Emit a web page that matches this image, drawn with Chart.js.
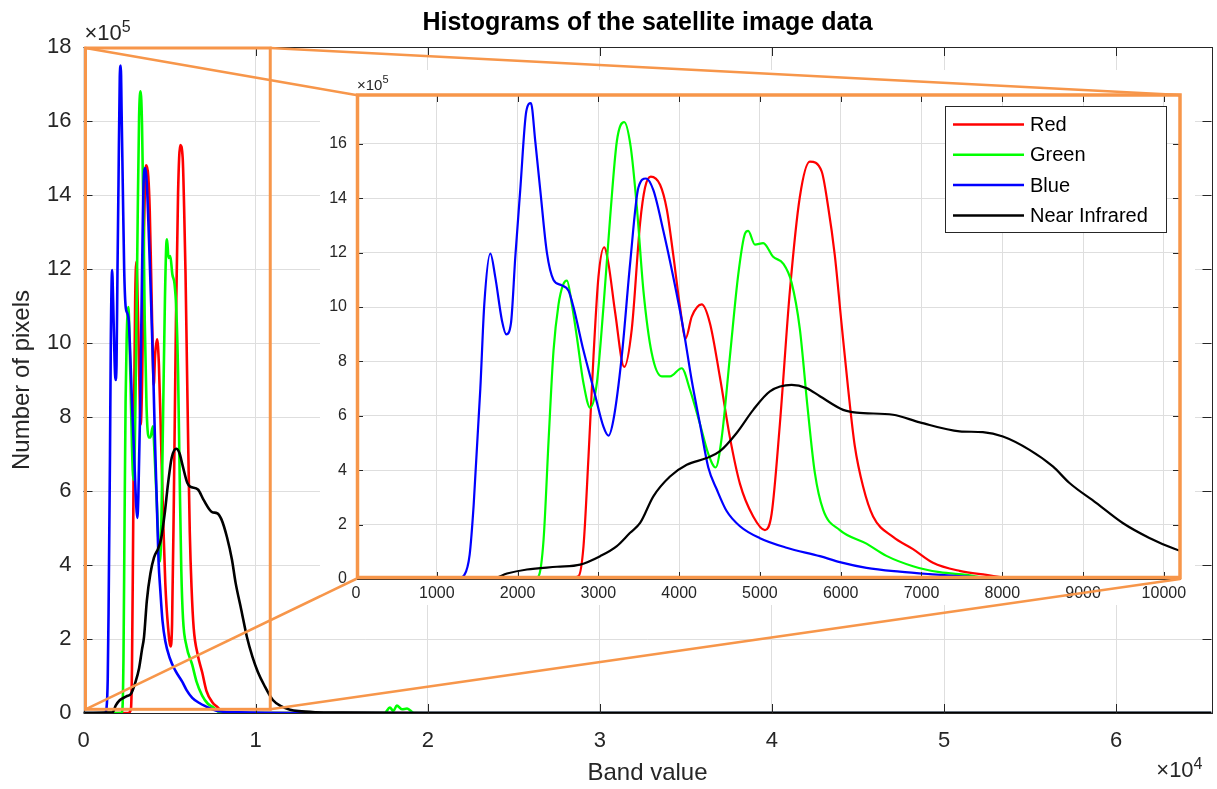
<!DOCTYPE html>
<html><head><meta charset="utf-8">
<script src="https://cdn.jsdelivr.net/npm/chart.js@4.4.1/dist/chart.umd.min.js"></script>
<style>
html,body{margin:0;padding:0;background:#fff;}
#wrap{position:relative;width:1217px;height:789px;overflow:hidden;background:#fff;}
#main{position:absolute;left:0;top:0;}
#inset{position:absolute;left:320px;top:70px;background:#fff;}
</style></head><body>
<div id="wrap">
<canvas id="main" width="1217" height="789"></canvas>
<canvas id="inset" width="875" height="535"></canvas>
</div>
<script>
// ---- data (band value, pixel count in units of 1e5) ----
const seriesNames = ['Red', 'Green', 'Blue', 'Near Infrared'];

const redBand  = [0, 2600, 2754, 2816, 2878, 2940, 3001, 3072, 3125, 3208, 3320, 3414, 3517, 3578, 3649, 3764, 3847, 3928, 4011, 4081, 4156, 4279, 4382, 4506, 4629, 4753, 4917, 5062, 5145, 5247, 5371, 5494, 5618, 5763, 5844, 5927, 6010, 6092, 6174, 6277, 6401, 6648, 6895, 7142, 7472, 7802, 8100, 9000, 65535];
const redCount = [0, 0, 0.1, 1.2, 4.5, 8.2, 11.1, 12.2, 11.6, 9.8, 7.8, 9.2, 13.1, 14.4, 14.8, 14.5, 13.6, 11.9, 10.0, 8.85, 9.65, 10.1, 9.4, 7.4, 5.2, 3.5, 2.3, 1.8, 2.4, 5.7, 10.6, 14.05, 15.35, 15.0, 13.7, 11.9, 9.4, 7.0, 4.9, 3.4, 2.3, 1.55, 1.1, 0.6, 0.3, 0.15, 0.03, 0, 0];

const greenBand  = [0, 2200, 2260, 2322, 2384, 2445, 2507, 2561, 2611, 2672, 2734, 2816, 2899, 2981, 3063, 3146, 3229, 3320, 3400, 3476, 3558, 3661, 3785, 3887, 4032, 4135, 4258, 4361, 4452, 4527, 4629, 4732, 4815, 4855, 4938, 5041, 5164, 5288, 5392, 5494, 5590, 5680, 5782, 5989, 6319, 6566, 6895, 7225, 7555, 7850, 9000, 17500, 17800, 18000, 18200, 18500, 18800, 19200, 65535];
const greenCount = [0, 0, 0.1, 1.45, 5.1, 8.4, 10.1, 10.8, 10.97, 10.1, 8.9, 7.2, 6.3, 7.2, 10.0, 13.3, 16.1, 16.8, 15.9, 13.7, 10.6, 8.3, 7.45, 7.45, 7.75, 6.95, 5.7, 4.6, 4.1, 5.2, 8.2, 11.2, 12.7, 12.8, 12.3, 12.35, 11.85, 11.6, 10.9, 9.2, 6.3, 3.9, 2.55, 1.8, 1.3, 0.85, 0.47, 0.25, 0.15, 0.03, 0, 0, 0.15, 0.05, 0.2, 0.1, 0.12, 0, 0];

const blueBand  = [0, 1250, 1342, 1407, 1456, 1539, 1588, 1663, 1724, 1807, 1860, 1918, 1972, 2033, 2108, 2165, 2219, 2281, 2363, 2445, 2548, 2631, 2692, 2816, 2940, 3063, 3125, 3187, 3290, 3393, 3496, 3591, 3681, 3805, 3928, 4052, 4156, 4258, 4361, 4465, 4588, 4753, 5000, 5330, 5742, 5989, 6319, 6731, 7100, 7600, 8000, 9000, 12000, 65535];
const blueCount = [0, 0, 0.15, 0.9, 2.7, 7.0, 10.1, 11.97, 11.1, 9.5, 9.0, 9.4, 11.85, 14.3, 17.2, 17.5, 16.1, 14.3, 12.0, 11.0, 10.8, 10.6, 10.0, 8.4, 7.0, 5.6, 5.27, 5.86, 8.2, 11.6, 14.4, 14.73, 14.3, 12.8, 11.1, 9.2, 7.3, 5.7, 4.1, 3.3, 2.5, 1.94, 1.5, 1.15, 0.84, 0.62, 0.41, 0.27, 0.18, 0.08, 0.04, 0.02, 0, 0];

const nirBand  = [0, 1700, 1869, 2116, 2487, 2775, 3022, 3229, 3393, 3517, 3681, 3887, 4094, 4341, 4506, 4712, 4917, 5124, 5392, 5577, 5742, 6030, 6195, 6648, 6978, 7472, 7760, 8008, 8337, 8626, 8832, 9162, 9491, 9821, 10130, 10500, 11000, 11500, 12000, 12500, 13500, 15000, 20000, 65535];
const nirCount = [0, 0.02, 0.2, 0.35, 0.45, 0.53, 0.84, 1.21, 1.7, 2.06, 3.04, 3.77, 4.2, 4.45, 4.7, 5.37, 6.22, 6.9, 7.14, 7.02, 6.72, 6.22, 6.12, 6.04, 5.76, 5.43, 5.4, 5.24, 4.75, 4.14, 3.53, 2.8, 2.06, 1.51, 1.11, 0.75, 0.35, 0.18, 0.09, 0.05, 0.02, 0.01, 0, 0];

// ticks
const mainXTicks = [0, 10000, 20000, 30000, 40000, 50000, 60000];
const mainXTickLabels = ['0', '1', '2', '3', '4', '5', '6'];
const mainYTicks = [0, 2, 4, 6, 8, 10, 12, 14, 16, 18];
const insetXTicks = [0, 1000, 2000, 3000, 4000, 5000, 6000, 7000, 8000, 9000, 10000];
const insetXTickLabels = ['0', '1000', '2000', '3000', '4000', '5000', '6000', '7000', '8000', '9000', '10000'];
const insetYTicks = [0, 2, 4, 6, 8, 10, 12, 14, 16];

// zoomed region (band range, count range) shown in the inset
const zoomBand = [0, 10850];
const zoomCount = [0.1, 18];

// ---- styling ----
const FONT = "'Liberation Sans', Arial, Helvetica, sans-serif";
const ORANGE = '#f7964a';
const AXIS = '#262626';
const GRID = '#dedede';
const colors = ['#ff0000', '#00ff00', '#0000ff', '#000000'];
Chart.defaults.font.family = FONT;
Chart.defaults.color = AXIS;

const bands = [redBand, greenBand, blueBand, nirBand];
const counts = [redCount, greenCount, blueCount, nirCount];

function makeDatasets(width) {
  return seriesNames.map((name, i) => ({
    label: name,
    data: bands[i].map((b, k) => ({x: b, y: counts[i][k]})),
    borderColor: colors[i],
    backgroundColor: colors[i],
    borderWidth: width,
    pointRadius: 0,
    fill: false,
    cubicInterpolationMode: 'monotone',
    order: 4 - i
  }));
}

function innerTicksAndBox(chart, len) {
  const {ctx, chartArea: a, scales: {x, y}} = chart;
  ctx.save();
  ctx.strokeStyle = AXIS; ctx.lineWidth = 1;
  ctx.beginPath();
  x.ticks.forEach(t => {
    const px = Math.round(x.getPixelForValue(t.value)) + 0.5;
    ctx.moveTo(px, a.bottom); ctx.lineTo(px, a.bottom - len);
    ctx.moveTo(px, a.top); ctx.lineTo(px, a.top + len);
  });
  y.ticks.forEach(t => {
    const py = Math.round(y.getPixelForValue(t.value)) + 0.5;
    ctx.moveTo(a.left, py); ctx.lineTo(a.left + len, py);
    ctx.moveTo(a.right, py); ctx.lineTo(a.right - len, py);
  });
  ctx.stroke();
  ctx.strokeRect(Math.round(a.left) + 0.5, Math.round(a.top) + 0.5, Math.round(a.right - a.left), Math.round(a.bottom - a.top));
  ctx.restore();
}

function expLabel(ctx, x, baseline, base, exp, size, supSize, rise, alignRight) {
  ctx.save();
  ctx.fillStyle = AXIS; ctx.textBaseline = 'alphabetic'; ctx.textAlign = 'left';
  ctx.font = size + 'px ' + FONT;
  const w1 = ctx.measureText(base).width;
  ctx.font = supSize + 'px ' + FONT;
  const w2 = ctx.measureText(exp).width;
  const x0 = alignRight ? x - w1 - w2 : x;
  ctx.font = size + 'px ' + FONT;
  ctx.fillText(base, x0, baseline);
  ctx.font = supSize + 'px ' + FONT;
  ctx.fillText(exp, x0 + w1, baseline - rise);
  ctx.restore();
}

let mainChart = null, insetChart = null;
const insetCanvas = document.getElementById('inset');

function connectorLines() {
  if (!mainChart || !insetChart) return [];
  const X = mainChart.scales.x, Y = mainChart.scales.y;
  const rx0 = X.getPixelForValue(zoomBand[0]) + 2, rx1 = X.getPixelForValue(zoomBand[1]);
  const ry0 = Y.getPixelForValue(zoomCount[0]), ry1 = Y.getPixelForValue(zoomCount[1]) + 1;
  const ox = insetCanvas.offsetLeft, oy = insetCanvas.offsetTop;
  const a = insetChart.chartArea;
  return [
    [rx0, ry1, a.left + ox, a.top + oy],
    [rx1, ry1, a.right + ox, a.top + oy],
    [rx0, ry0, a.left + ox, a.bottom + oy],
    [rx1, ry0, a.right + ox, a.bottom + oy]
  ];
}
function drawConnectors(ctx, ox, oy) {
  ctx.save();
  ctx.strokeStyle = ORANGE; ctx.lineWidth = 2.5; ctx.lineCap = 'round';
  connectorLines().forEach(l => {
    ctx.beginPath(); ctx.moveTo(l[0] - ox, l[1] - oy); ctx.lineTo(l[2] - ox, l[3] - oy); ctx.stroke();
  });
  ctx.restore();
}

const mainPlugin = {
  id: 'mainDecor',
  afterDraw(chart) {
    const ctx = chart.ctx, a = chart.chartArea;
    innerTicksAndBox(chart, 9);
    const X = chart.scales.x, Y = chart.scales.y;
    const rx0 = X.getPixelForValue(zoomBand[0]) + 2, rx1 = X.getPixelForValue(zoomBand[1]);
    const ry0 = Y.getPixelForValue(zoomCount[0]), ry1 = Y.getPixelForValue(zoomCount[1]) + 1;
    ctx.save();
    ctx.strokeStyle = ORANGE; ctx.lineWidth = 3;
    ctx.strokeRect(rx0, ry1, rx1 - rx0, ry0 - ry1);
    ctx.restore();
    drawConnectors(ctx, 0, 0);
    expLabel(ctx, a.left + 1, a.top - 7, '\u00d710', '5', 22, 16, 8, false);
    expLabel(ctx, a.right - 9, a.bottom + 64, '\u00d710', '4', 22, 16, 8, true);
  }
};

const insetPlugin = {
  id: 'insetDecor',
  afterDraw(chart) {
    const ctx = chart.ctx, a = chart.chartArea;
    innerTicksAndBox(chart, 7);
    const w = 221, h = 126, lx = a.right - 14 - w, ly = a.top + 11;
    ctx.save();
    ctx.fillStyle = '#fff'; ctx.fillRect(lx, ly, w, h);
    ctx.strokeStyle = AXIS; ctx.lineWidth = 1; ctx.strokeRect(lx + 0.5, ly + 0.5, w, h);
    ctx.font = '20px ' + FONT; ctx.textBaseline = 'middle'; ctx.textAlign = 'left';
    chart.data.datasets.forEach((d, i) => {
      const cy = ly + 18.5 + i * 30.3;
      ctx.strokeStyle = d.borderColor; ctx.lineWidth = 2.5;
      ctx.beginPath(); ctx.moveTo(lx + 8, cy); ctx.lineTo(lx + 79, cy); ctx.stroke();
      ctx.fillStyle = '#000'; ctx.fillText(d.label, lx + 85, cy + 1);
    });
    ctx.restore();
    ctx.save();
    ctx.strokeStyle = ORANGE; ctx.lineWidth = 3.5;
    ctx.strokeRect(a.left + 1.5, a.top, a.right - a.left - 1.5, a.bottom - a.top - 1.5);
    ctx.restore();
    expLabel(ctx, a.left + 1, a.top - 5, '\u00d710', '5', 15, 11, 7, false);
    drawConnectors(ctx, insetCanvas.offsetLeft, insetCanvas.offsetTop);
  }
};

mainChart = new Chart(document.getElementById('main'), {
  type: 'line',
  data: {datasets: makeDatasets(2.6)},
  options: {
    responsive: false, animation: false, events: [],
    layout: {padding: {left: 0, right: 5.5, top: 0, bottom: 0}},
    plugins: {
      legend: {display: false}, tooltip: {enabled: false},
      title: {display: true, fullSize: false, text: 'Histograms of the satellite image data', color: '#000',
              font: {size: 25, weight: 'bold'}, padding: {top: 8, bottom: 9}}
    },
    scales: {
      x: {
        type: 'linear', min: 0, max: 65535,
        afterBuildTicks: s => { s.ticks = mainXTicks.map(v => ({value: v})); },
        afterFit: s => { s.height = 76; },
        ticks: {font: {size: 22}, color: AXIS, padding: 15, maxRotation: 0,
                callback: (v) => mainXTickLabels[mainXTicks.indexOf(v)]},
        grid: {color: GRID, drawTicks: false}, border: {display: false},
        title: {display: true, text: 'Band value', color: AXIS, font: {size: 24}, padding: {top: 0, bottom: 1}}
      },
      y: {
        type: 'linear', min: 0, max: 18,
        afterBuildTicks: s => { s.ticks = mainYTicks.map(v => ({value: v})); },
        afterFit: s => { s.width = 83.5; },
        ticks: {font: {size: 22}, color: AXIS, padding: 12},
        grid: {color: GRID, drawTicks: false}, border: {display: false},
        title: {display: true, text: 'Number of pixels', color: AXIS, font: {size: 24}, padding: {top: 8, bottom: 0}}
      }
    }
  },
  plugins: [mainPlugin]
});

insetChart = new Chart(insetCanvas, {
  type: 'line',
  data: {datasets: makeDatasets(2.2)},
  options: {
    responsive: false, animation: false, events: [],
    layout: {padding: {left: 0, right: 15, top: 25, bottom: 0}},
    plugins: {legend: {display: false}, tooltip: {enabled: false}, title: {display: false}},
    scales: {
      x: {
        type: 'linear', min: 0, max: 10200,
        afterBuildTicks: s => { s.ticks = insetXTicks.map(v => ({value: v})); },
        afterFit: s => { s.height = 26; },
        ticks: {font: {size: 16}, color: AXIS, padding: 5, maxRotation: 0, autoSkip: false,
                callback: (v) => insetXTickLabels[insetXTicks.indexOf(v)]},
        grid: {color: GRID, drawTicks: false}, border: {display: false}
      },
      y: {
        type: 'linear', min: 0, max: 17.8,
        afterBuildTicks: s => { s.ticks = insetYTicks.map(v => ({value: v})); },
        afterFit: s => { s.width = 36; },
        ticks: {font: {size: 16}, color: AXIS, padding: 9},
        grid: {color: GRID, drawTicks: false}, border: {display: false}
      }
    }
  },
  plugins: [insetPlugin]
});

insetChart.draw();
mainChart.draw();
</script>
</body></html>
